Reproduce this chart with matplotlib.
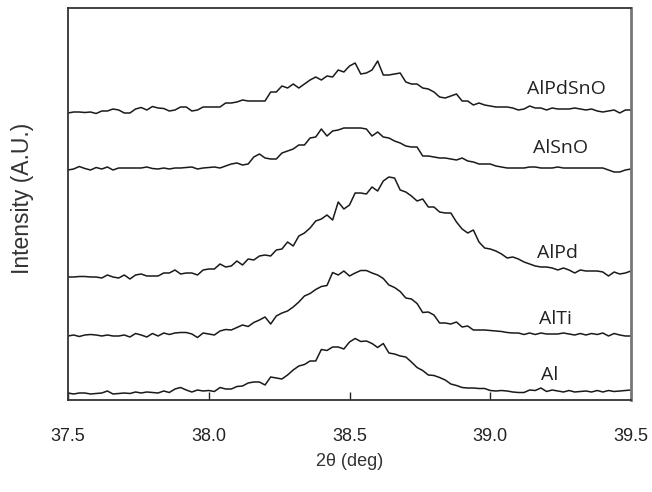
import numpy as np
import matplotlib
matplotlib.use("Agg")
import matplotlib.pyplot as plt

# 2theta grid, 0.02 deg steps from 37.5 to 39.5
two_theta = np.linspace(37.5, 39.5, 101)

# intensities (arbitrary units, already stacked)
al = [7, 6, 7, 7, 6, 6.5, 7, 9, 6, 6.5, 7, 6.5, 8, 7, 8, 7.5, 7, 9, 7.5, 11,
      12.5, 10, 8, 10, 9, 9.5, 8.5, 12.5, 11, 11, 13.5, 14, 17, 18, 18, 15, 23, 22, 21, 25,
      30, 34, 35.5, 39, 39, 50.5, 49.5, 53, 53, 51, 58, 61.5, 58.5, 59, 56.5, 52.5, 56.5, 47, 46, 44,
      43, 38, 32.5, 29.5, 25, 24.5, 22.5, 20, 16, 14.5, 12.5, 12, 12, 11.5, 11.5, 9.5, 9, 9.5, 9, 8,
      7.5, 7.5, 10, 9.5, 12, 8.5, 10, 9, 8, 9.5, 8, 8.5, 9, 8, 9.5, 8, 9.5, 8.5, 9, 9.5, 10]

alti = [64, 65, 63.5, 65, 65.5, 65, 64, 65, 64, 64, 65, 63, 66.5, 65, 63, 66.5, 64, 67, 65.5, 67,
        67.5, 67.5, 66, 62.5, 67, 66, 65, 69, 70.5, 70, 72.5, 75, 73.5, 77.5, 80, 83, 76, 84, 87, 89,
        93, 98, 104, 106.5, 110.5, 113.5, 114.5, 127.5, 125, 129, 124, 127, 129.5, 129.5, 127, 125, 121.5, 115, 112.5, 108.5,
        102, 101, 96.5, 87.5, 88, 85, 77, 77, 76, 78, 73, 74, 70, 70, 70, 69.5, 69, 68.5, 67.5, 67,
        67, 65.5, 67, 65.5, 67, 66, 66, 66, 67, 66, 65, 66.5, 65, 66.5, 65.5, 67, 64, 66.5, 65, 64, 64]

alpd = [123, 123, 123.5, 123.5, 123, 123, 122, 125, 123, 122, 125, 121, 125, 126, 124, 124, 124, 127, 127, 130,
        126, 127, 127, 125, 130, 131, 131, 136, 133, 134, 139, 135, 141, 140, 144, 145, 144, 150, 151, 158,
        154, 164, 167, 172, 179, 181, 185, 180, 198, 191, 195, 207, 207, 206, 213, 209, 219, 223, 222, 210,
        208, 204, 199, 201, 193, 193, 188, 187, 187, 178, 171, 167, 170, 158, 152, 151, 149, 146, 142, 143,
        141, 138, 136, 134, 133, 133, 132, 130, 132, 130, 127, 130, 129, 129, 129, 128, 124, 128, 126, 127, 129]

alsno = [230, 231, 233.5, 231.5, 230, 232.5, 231, 233, 230, 232, 232, 232, 232, 232, 233, 231.5, 231, 232, 231, 232,
         232, 232.5, 233, 231, 232, 232.5, 233, 232, 234, 236, 237, 235, 236, 243, 246, 242, 241, 241, 247, 249,
         251, 255, 255, 262, 263, 271, 264, 269, 270, 272, 272, 272, 272, 271, 264, 268, 263, 262, 259, 257,
         254, 253, 253, 244, 244, 243, 242, 242, 241, 240, 242, 239, 238, 236, 236, 236, 234, 233, 232, 232,
         232, 232, 233, 233, 232, 232, 232, 233, 232, 232, 232, 232, 232, 232, 232, 232, 230, 228, 228, 230, 231]

alpdsno = [287, 288, 288, 287.5, 288, 286.5, 289, 289, 291, 290, 287, 287, 291, 292.5, 290, 293.5, 292, 291.5, 289, 290,
           293, 293, 289, 290, 293, 293, 293, 293, 297, 297, 298, 300, 299, 299, 299, 299, 308, 308, 314, 312,
           316, 312, 316, 320, 323, 320, 324, 323, 330, 328, 334, 337, 326, 327, 330, 339, 325, 325, 326, 327,
           318, 316, 316, 312, 311, 308, 303, 302, 304, 306, 299, 299, 295, 297, 295, 294, 293, 293, 293, 292,
           290, 291, 294, 292, 292, 290, 292, 291, 291, 291, 292, 291, 290, 291, 289, 288, 289, 290, 287, 290, 290]

series = [al, alti, alpd, alsno, alpdsno]
names = ["Al", "AlTi", "AlPd", "AlSnO", "AlPdSnO"]
label_x = [39.21, 39.23, 39.24, 39.25, 39.27]
label_y = [25, 81, 147, 252, 311]

fig = plt.figure(figsize=(6.52, 4.92), dpi=100)
ax = fig.add_axes([68 / 652, 92 / 492, 563 / 652, 392 / 492])

for ys in series:
    ax.plot(two_theta, ys, color="#1a1a1a", lw=1.1)

for name, lx, ly in zip(names, label_x, label_y):
    ax.text(lx, ly, name, fontsize=14, family="Open Sans", color="#222222",
            ha="center", va="center")

ax.set_xlim(37.5, 39.5)
ax.set_ylim(0, 392)
ax.set_xticks([37.5, 38.0, 38.5, 39.0, 39.5])
ax.set_xticklabels(["37.5", "38.0", "38.5", "39.0", "39.5"])
ax.set_yticks([])
ax.tick_params(axis="x", direction="in", length=6, width=1, pad=20,
               labelsize=13, colors="#222222")
for lbl in ax.get_xticklabels():
    lbl.set_family("Liberation Sans")

for side in ["left", "bottom", "top", "right"]:
    ax.spines[side].set_color("#333333")
    ax.spines[side].set_linewidth(1.3)
ax.spines["right"].set_color("#777777")
ax.spines["right"].set_linewidth(2)

ax.set_xlabel("2θ (deg)", fontsize=13, family="Liberation Sans", color="#333333", labelpad=6)
ax.set_ylabel("Intensity (A.U.)", fontsize=16.5, family="Liberation Sans", color="#333333")
ax.yaxis.set_label_coords(-0.060, 0.515)

fig.savefig("out.png", dpi=100)
